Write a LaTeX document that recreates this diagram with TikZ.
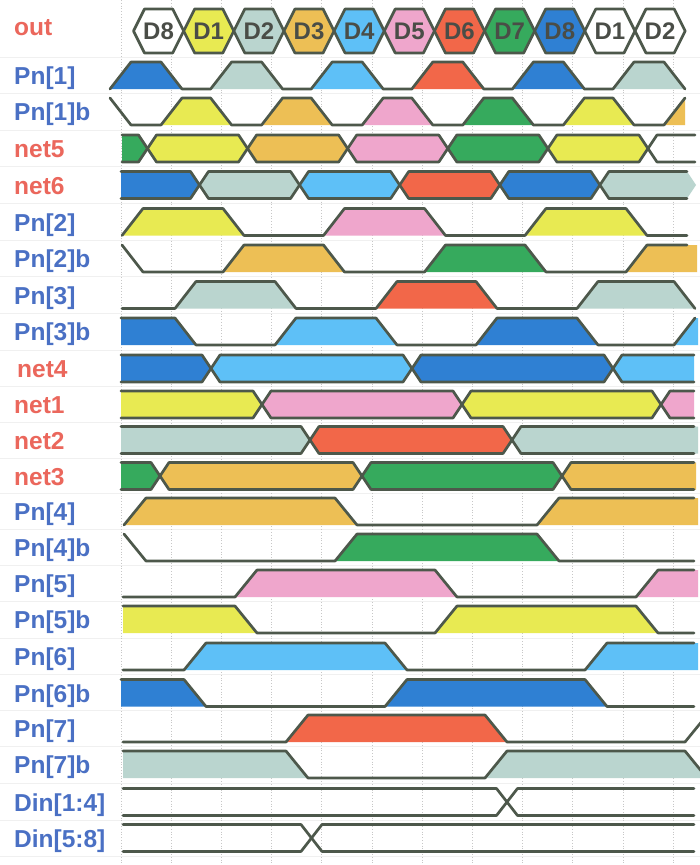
\documentclass[tikz,border=0pt]{standalone}
\usepackage{fontspec}
\setmainfont{Liberation Sans}
\definecolor{lineC}{HTML}{4D584B}
\definecolor{cB}{HTML}{2F80D3}
\definecolor{cL}{HTML}{5EC0F7}
\definecolor{cG}{HTML}{BAD5CF}
\definecolor{cY}{HTML}{E8EA52}
\definecolor{cO}{HTML}{EDBF55}
\definecolor{cP}{HTML}{EFA6CC}
\definecolor{cR}{HTML}{F26749}
\definecolor{cN}{HTML}{36AA5D}
\definecolor{txB}{HTML}{4A70C4}
\definecolor{txR}{HTML}{EB675C}
\definecolor{txD}{HTML}{4A4D47}
\pgfdeclarelayer{grid}\pgfdeclarelayer{fills}\pgfsetlayers{grid,fills,main}
\newcommand\yT{-13.5}
\newcommand\yB{13.5}
\newcommand\bh{9}
\newcommand\bfirst[3]{%
 \begin{pgfonlayer}{fills}\fill[#3] (#1,\yT) -- (#2-\bh,\yT) -- (#2,0) -- (#2-\bh,\yB) -- (#1,\yB) -- cycle;\end{pgfonlayer}
 \draw[wl] (#1,\yT) -- (#2-\bh,\yT) -- (#2,0) -- (#2-\bh,\yB) -- (#1,\yB);}
\newcommand\bmid[3]{%
 \begin{pgfonlayer}{fills}\fill[#3] (#1,0) -- (#1+\bh,\yT) -- (#2-\bh,\yT) -- (#2,0) -- (#2-\bh,\yB) -- (#1+\bh,\yB) -- cycle;\end{pgfonlayer}
 \draw[wl] (#1,0) -- (#1+\bh,\yT) -- (#2-\bh,\yT) -- (#2,0) -- (#2-\bh,\yB) -- (#1+\bh,\yB) -- cycle;}
\newcommand\blast[4]{%
 \begin{pgfonlayer}{fills}\fill[#4] (#1,0) -- (#1+\bh,\yT) -- (#3,\yT) -- (#3,\yB) -- (#1+\bh,\yB) -- cycle;\end{pgfonlayer}
 \draw[wl] (#2,\yT) -- (#1+\bh,\yT) -- (#1,0) -- (#1+\bh,\yB) -- (#2,\yB);}
% pulse fill: rise-start, rise-end, fall-start, fall-end, colour
\newcommand\pf[5]{%
 \begin{pgfonlayer}{fills}\fill[#5] (#1,\yB) -- (#2,\yT) -- (#3,\yT) -- (#4,\yB) -- cycle;\end{pgfonlayer}}
\tikzset{
 wl/.style={draw=lineC, line width=2.7pt, line join=round, line cap=round},
 lbB/.style={text=txB, font=\fontsize{24.5}{24}\selectfont\bfseries, inner sep=0pt, anchor=base west},
 lbR/.style={lbB, text=txR},
 hxt/.style={text=txD, font=\fontsize{24}{24}\selectfont\bfseries, inner sep=0pt},
 rowat/.style={shift={(0,#1)}}
}
\begin{document}
\begin{tikzpicture}[x=1pt,y=-1pt]
\useasboundingbox (0,0) rectangle (700,865);
\begin{pgfonlayer}{grid}
 \fill[white] (0,0) rectangle (700,865);
 \foreach \yy in {57.5,93.5,130,166.8,203.5,240.3,276.8,313.3,350,386.5,422.3,458,493.8,529.5,565.5,601.5,638,674.8,710.8,746.5,783.3,820,856}
  \draw[black!6, line width=1pt] (0,\yy) -- (700,\yy);
 \foreach \k in {0,...,11}
  \draw[black!22, line width=0.8pt, dotted] (121+50.2*\k,0) -- (121+50.2*\k,865);
\end{pgfonlayer}

% ---- labels
\node[lbR] (l0) at (14,35) {out};
\node[lbB] (l1) at (14,84.5) {Pn[1]};
\node[lbB] (l2) at (14,120.5) {Pn[1]b};
\node[lbR] (l3) at (14,157.5) {net5};
\node[lbR] (l4) at (14,194) {net6};
\node[lbB] (l5) at (14,231) {Pn[2]};
\node[lbB] (l6) at (14,267.5) {Pn[2]b};
\node[lbB] (l7) at (14,304) {Pn[3]};
\node[lbB] (l8) at (14,340.5) {Pn[3]b};
\node[lbR] (l9) at (17,377.5) {net4};
\node[lbR] (l10) at (14,413.5) {net1};
\node[lbR] (l11) at (14,449) {net2};
\node[lbR] (l12) at (14,485) {net3};
\node[lbB] (l13) at (14,520.5) {Pn[4]};
\node[lbB] (l14) at (14,556.5) {Pn[4]b};
\node[lbB] (l15) at (14,592.5) {Pn[5]};
\node[lbB] (l16) at (14,628.5) {Pn[5]b};
\node[lbB] (l17) at (14,665.5) {Pn[6]};
\node[lbB] (l18) at (14,702) {Pn[6]b};
\node[lbB] (l19) at (14,737.5) {Pn[7]};
\node[lbB] (l20) at (14,773.5) {Pn[7]b};
\node[lbB] (l21) at (14,811) {Din[1:4]};
\node[lbB] (l22) at (14,847) {Din[5:8]};

% ---- out bus
\foreach \lab/\col [count=\k from 0] in {D8/white,D1/cY,D2/cG,D3/cO,D4/cL,D5/cP,D6/cR,D7/cN,D8/cB,D1/white,D2/white}{
  \pgfmathsetmacro\xa{133.5+50.15*\k}
  \pgfmathsetmacro\xb{\xa+50.15}
  \begin{pgfonlayer}{fills}
  \fill[\col] (\xa,31) -- (\xa+11,9) -- (\xb-11,9) -- (\xb,31) -- (\xb-11,53) -- (\xa+11,53) -- cycle;
  \end{pgfonlayer}
  \draw[wl] (\xa,31) -- (\xa+11,9) -- (\xb-11,9) -- (\xb,31) -- (\xb-11,53) -- (\xa+11,53) -- cycle;
  \node[hxt] (hx\k) at ({(\xa+\xb)/2},31.5) {\lab};
}

% ---- Pn[1]
\begin{scope}[rowat=75.5]
 \pf{110}{131}{161}{182}{cB}
 \pf{210.6}{231.6}{261.6}{282.6}{cG}
 \pf{311.2}{332.2}{362.2}{383.2}{cL}
 \pf{411.8}{432.8}{462.8}{483.8}{cR}
 \pf{512.4}{533.4}{563.4}{584.4}{cB}
 \pf{613}{634}{664}{685}{cG}
 \draw[wl] (110,\yB) -- (131,\yT) -- (161,\yT) -- (182,\yB) -- (210.6,\yB) -- (231.6,\yT) -- (261.6,\yT) -- (282.6,\yB) -- (311.2,\yB) -- (332.2,\yT) -- (362.2,\yT) -- (383.2,\yB) -- (411.8,\yB) -- (432.8,\yT) -- (462.8,\yT) -- (483.8,\yB) -- (512.4,\yB) -- (533.4,\yT) -- (563.4,\yT) -- (584.4,\yB) -- (613,\yB) -- (634,\yT) -- (664,\yT) -- (685,\yB);
\end{scope}
% ---- Pn[1]b
\begin{scope}[rowat=111.5]
 \pf{161}{182}{210.6}{231.6}{cY}
 \pf{261.6}{282.6}{311.2}{332.2}{cO}
 \pf{362.2}{383.2}{411.8}{432.8}{cP}
 \pf{462.8}{483.8}{512.4}{533.4}{cN}
 \pf{563.4}{584.4}{613}{634}{cY}
 \pf{664}{685}{685}{685}{cO}
 \draw[wl] (110,\yT) -- (131,\yB) -- (161,\yB) -- (182,\yT) -- (210.6,\yT) -- (231.6,\yB) -- (261.6,\yB) -- (282.6,\yT) -- (311.2,\yT) -- (332.2,\yB) -- (362.2,\yB) -- (383.2,\yT) -- (411.8,\yT) -- (432.8,\yB) -- (462.8,\yB) -- (483.8,\yT) -- (512.4,\yT) -- (533.4,\yB) -- (563.4,\yB) -- (584.4,\yT) -- (613,\yT) -- (634,\yB) -- (664,\yB) -- (685,\yT);
\end{scope}
% ---- net5
\begin{scope}[rowat=148.5]
 \bfirst{122}{147.5}{cN}
 \bmid{147.5}{247.6}{cY}
 \bmid{247.6}{347.7}{cO}
 \bmid{347.7}{447.8}{cP}
 \bmid{447.8}{547.9}{cN}
 \bmid{547.9}{648}{cY}
 \draw[wl] (695,\yT) -- (648+\bh,\yT) -- (648,0) -- (648+\bh,\yB) -- (695,\yB);
\end{scope}
% ---- net6
\begin{scope}[rowat=185]
 \bfirst{121}{199.5}{cB}
 \bmid{199.5}{299.6}{cG}
 \bmid{299.6}{399.7}{cL}
 \bmid{399.7}{499.8}{cR}
 \bmid{499.8}{599.9}{cB}
 \begin{pgfonlayer}{fills}\fill[cG] (599.9,0) -- (608.9,\yT) -- (687,\yT) -- (696,0) -- (687,\yB) -- (608.9,\yB) -- cycle;\end{pgfonlayer}
 \draw[wl] (687,\yT) -- (608.9,\yT) -- (599.9,0) -- (608.9,\yB) -- (687,\yB);
\end{scope}
% ---- Pn[2]
\begin{scope}[rowat=222]
 \pf{122}{143}{223}{244}{cY}
 \pf{323.5}{344.5}{424.5}{445.5}{cP}
 \pf{525}{546}{626}{647}{cY}
 \draw[wl] (122,\yB) -- (143,\yT) -- (223,\yT) -- (244,\yB) -- (323.5,\yB) -- (344.5,\yT) -- (424.5,\yT) -- (445.5,\yB) -- (525,\yB) -- (546,\yT) -- (626,\yT) -- (647,\yB) -- (687,\yB);
\end{scope}
% ---- Pn[2]b
\begin{scope}[rowat=258.5]
 \pf{223}{244}{323.5}{344.5}{cO}
 \pf{424.5}{445.5}{525}{546}{cN}
 \pf{626}{647}{697}{697}{cO}
 \draw[wl] (122,\yT) -- (143,\yB) -- (223,\yB) -- (244,\yT) -- (323.5,\yT) -- (344.5,\yB) -- (424.5,\yB) -- (445.5,\yT) -- (525,\yT) -- (546,\yB) -- (626,\yB) -- (647,\yT) -- (687,\yT);
\end{scope}
% ---- Pn[3]
\begin{scope}[rowat=295]
 \pf{175}{196}{275}{296}{cG}
 \pf{376}{397}{476}{497}{cR}
 \pf{577}{598}{674}{695}{cG}
 \draw[wl] (122,\yB) -- (175,\yB) -- (196,\yT) -- (275,\yT) -- (296,\yB) -- (376,\yB) -- (397,\yT) -- (476,\yT) -- (497,\yB) -- (577,\yB) -- (598,\yT) -- (674,\yT) -- (695,\yB);
\end{scope}
% ---- Pn[3]b
\begin{scope}[rowat=331.5]
 \pf{121}{121}{175}{196}{cB}
 \pf{275}{296}{376}{397}{cL}
 \pf{476}{497}{577}{598}{cB}
 \pf{674}{695}{698}{698}{cL}
 \draw[wl] (121,\yT) -- (175,\yT) -- (196,\yB) -- (275,\yB) -- (296,\yT) -- (376,\yT) -- (397,\yB) -- (476,\yB) -- (497,\yT) -- (577,\yT) -- (598,\yB) -- (674,\yB) -- (695,\yT);
\end{scope}
% ---- net4
\begin{scope}[rowat=368.5]
 \bfirst{121}{211}{cB}
 \bmid{211}{412}{cL}
 \bmid{412}{613}{cB}
 \blast{613}{694}{694}{cL}
\end{scope}
% ---- net1
\begin{scope}[rowat=404.5]
 \bfirst{121}{262}{cY}
 \bmid{262}{462}{cP}
 \bmid{462}{661}{cY}
 \blast{661}{694}{694}{cP}
\end{scope}
% ---- net2
\begin{scope}[rowat=440]
 \bfirst{121}{310}{cG}
 \bmid{310}{512}{cR}
 \blast{512}{694}{698}{cG}
\end{scope}
% ---- net3
\begin{scope}[rowat=476]
 \bfirst{121}{160}{cN}
 \bmid{160}{362}{cO}
 \bmid{362}{562}{cN}
 \blast{562}{694}{696}{cO}
\end{scope}
% ---- Pn[4]
\begin{scope}[rowat=511.5]
 \pf{124}{146}{335}{357}{cO}
 \pf{537}{559}{698}{698}{cO}
 \draw[wl] (124,\yB) -- (146,\yT) -- (335,\yT) -- (357,\yB) -- (537,\yB) -- (559,\yT) -- (694,\yT);
\end{scope}
% ---- Pn[4]b
\begin{scope}[rowat=547.5]
 \pf{335}{357}{537}{559}{cN}
 \draw[wl] (124,\yT) -- (146,\yB) -- (335,\yB) -- (357,\yT) -- (537,\yT) -- (559,\yB) -- (694,\yB);
\end{scope}
% ---- Pn[5]
\begin{scope}[rowat=583.5]
 \pf{235}{257}{435}{457}{cP}
 \pf{636}{658}{698}{698}{cP}
 \draw[wl] (123,\yB) -- (235,\yB) -- (257,\yT) -- (435,\yT) -- (457,\yB) -- (636,\yB) -- (658,\yT) -- (694,\yT);
\end{scope}
% ---- Pn[5]b
\begin{scope}[rowat=619.5]
 \pf{123}{123}{235}{257}{cY}
 \pf{435}{457}{636}{658}{cY}
 \draw[wl] (123,\yT) -- (235,\yT) -- (257,\yB) -- (435,\yB) -- (457,\yT) -- (636,\yT) -- (658,\yB) -- (694,\yB);
\end{scope}
% ---- Pn[6]
\begin{scope}[rowat=656.5]
 \pf{184}{206}{385}{407}{cL}
 \pf{585}{607}{698}{698}{cL}
 \draw[wl] (123,\yB) -- (184,\yB) -- (206,\yT) -- (385,\yT) -- (407,\yB) -- (585,\yB) -- (607,\yT) -- (694,\yT);
\end{scope}
% ---- Pn[6]b
\begin{scope}[rowat=693]
 \pf{121}{121}{184}{206}{cB}
 \pf{385}{407}{585}{607}{cB}
 \draw[wl] (121,\yT) -- (184,\yT) -- (206,\yB) -- (385,\yB) -- (407,\yT) -- (585,\yT) -- (607,\yB) -- (694,\yB);
\end{scope}
% ---- Pn[7]
\begin{scope}[rowat=728.5]
 \pf{286}{308}{485}{507}{cR}
 \draw[wl] (123,\yB) -- (286,\yB) -- (308,\yT) -- (485,\yT) -- (507,\yB) -- (685,\yB) -- (707,\yT);
\end{scope}
% ---- Pn[7]b
\begin{scope}[rowat=764.5]
 \pf{123}{123}{286}{308}{cG}
 \pf{485}{507}{685}{707}{cG}
 \draw[wl] (123,\yT) -- (286,\yT) -- (308,\yB) -- (485,\yB) -- (507,\yT) -- (685,\yT) -- (707,\yB);
\end{scope}
% ---- Din[1:4]
\begin{scope}[rowat=802]
 \draw[wl] (123,\yT) -- (496.5,\yT) -- (517.5,\yB) -- (694,\yB);
 \draw[wl] (123,\yB) -- (496.5,\yB) -- (517.5,\yT) -- (694,\yT);
\end{scope}
% ---- Din[5:8]
\begin{scope}[rowat=838]
 \draw[wl] (123,\yT) -- (301,\yT) -- (322,\yB) -- (694,\yB);
 \draw[wl] (123,\yB) -- (301,\yB) -- (322,\yT) -- (694,\yT);
\end{scope}
\end{tikzpicture}
\end{document}
